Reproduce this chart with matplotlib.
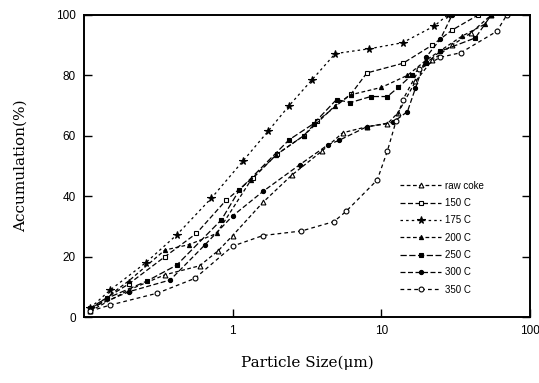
import matplotlib
matplotlib.use("Agg")
import matplotlib.pyplot as plt

labels = ["raw coke", "150 C", "175 C", "200 C", "250 C", "300 C", "350 C"]

raw_x = [0.11, 0.2, 0.35, 0.6, 0.8, 1.0, 1.6, 2.5, 4.0, 5.5, 8.0, 11.0, 13.0, 17.0, 22.0, 30.0, 40.0, 55.0]
raw_y = [2.0, 9.0, 14.0, 17.0, 22.0, 27.0, 38.0, 47.0, 55.0, 61.0, 63.0, 64.0, 67.7, 78.0, 85.0, 90.0, 94.0, 100.0]

c150_x = [0.11, 0.2, 0.35, 0.57, 0.9, 1.36, 2.0, 3.0, 3.7, 6.3, 8.0, 14.0, 22.0, 30.0, 45.0]
c150_y = [3.0, 11.0, 20.0, 27.7, 38.6, 46.0, 54.0, 60.0, 64.8, 74.0, 80.8, 84.0, 90.0, 95.0, 100.0]

c175_x = [0.11, 0.15, 0.26, 0.42, 0.72, 1.17, 1.73, 2.4, 3.4, 4.9, 8.3, 13.9, 22.7, 28.0]
c175_y = [3.0, 9.0, 18.0, 27.2, 39.4, 51.6, 61.5, 70.0, 78.4, 87.2, 88.8, 90.8, 96.3, 100.0]

c200_x = [0.11, 0.2, 0.35, 0.51, 0.78, 1.33, 1.96, 3.0, 4.9, 6.26, 10.0, 15.0, 20.0, 35.0, 50.0]
c200_y = [2.5, 12.0, 22.2, 24.0, 27.7, 45.4, 53.7, 60.0, 70.0, 73.6, 76.0, 80.0, 85.0, 93.0, 97.0]

c250_x = [0.11, 0.142, 0.264, 0.42, 0.84, 1.11, 2.4, 3.5, 5.0, 6.2, 8.5, 11.0, 13.0, 16.0, 20.0, 25.0, 43.0, 55.0]
c250_y = [2.0, 6.2, 11.9, 17.2, 32.2, 42.1, 58.7, 64.0, 72.0, 71.0, 73.0, 73.0, 76.0, 80.0, 84.0, 88.0, 92.4, 100.0]

c300_x = [0.11, 0.2, 0.38, 0.65, 1.0, 1.6, 2.82, 4.37, 5.2, 8.0, 12.0, 15.0, 17.0, 20.0, 25.0, 30.0]
c300_y = [3.0, 8.4, 12.3, 23.9, 33.5, 41.6, 50.4, 57.0, 58.5, 63.0, 64.5, 68.0, 75.8, 86.0, 92.0, 100.0]

c350_x = [0.11, 0.15, 0.31, 0.556, 1.0, 1.6, 2.9, 4.8, 5.8, 9.4, 11.0, 12.6, 14.0, 18.0, 25.0, 34.3, 60.0, 70.0]
c350_y = [2.0, 4.0, 7.9, 12.8, 23.5, 27.0, 28.5, 31.6, 35.0, 45.4, 55.0, 65.0, 72.0, 82.0, 86.0, 87.5, 94.6, 100.0]

series = [(raw_x, raw_y), (c150_x, c150_y), (c175_x, c175_y), (c200_x, c200_y),
          (c250_x, c250_y), (c300_x, c300_y), (c350_x, c350_y)]
styles = [
    dict(marker="^", mfc="white", ms=3.5),
    dict(marker="s", mfc="white", ms=3),
    dict(marker="*", mfc="black", ms=5.5),
    dict(marker="^", mfc="black", ms=3),
    dict(marker="s", mfc="black", ms=3),
    dict(marker="o", mfc="black", ms=3),
    dict(marker="o", mfc="white", ms=3.5),
]
linestyles = [(0, (3, 2)), (0, (4, 2)), (0, (2, 2.5)), (0, (3, 2)), (0, (5, 2)), (0, (4, 2)), (0, (3, 2.5))]

fig = plt.figure(figsize=(5.39, 3.83), dpi=100)
ax = fig.add_axes([0.156, 0.172, 0.827, 0.789])

for (xs, ys), lab, st, ls in zip(series, labels, styles, linestyles):
    ax.plot(xs, ys, color="black", lw=0.9, linestyle=ls, mec="black", mew=0.8,
            label=lab, **st)

ax.set_xscale("log")
ax.set_xlim(0.1, 100)
ax.set_ylim(0, 100)
ax.set_xticks([1, 10, 100])
ax.set_xticklabels(["1", "10", "100"])
ax.minorticks_off()
ax.set_yticks([0, 20, 40, 60, 80, 100])
ax.tick_params(direction="in", length=6, width=1, labelsize=8.5, right=True, top=False,
               pad=6)
for lbl in ax.get_xticklabels() + ax.get_yticklabels():
    lbl.set_family("Liberation Sans")
for s in ax.spines.values():
    s.set_linewidth(1.4)

ax.set_xlabel("Particle Size(μm)", family="DejaVu Serif", fontsize=11, labelpad=13)
ax.set_ylabel("Accumulation(%)", family="DejaVu Serif", fontsize=11, labelpad=20)

leg = ax.legend(loc="upper left", bbox_to_anchor=(0.69, 0.48), frameon=False,
                handlelength=4.2, handletextpad=0.4, labelspacing=0.75,
                borderpad=0.4, prop={"family": "Liberation Sans", "size": 7})

fig.savefig("out.png", dpi=100)
